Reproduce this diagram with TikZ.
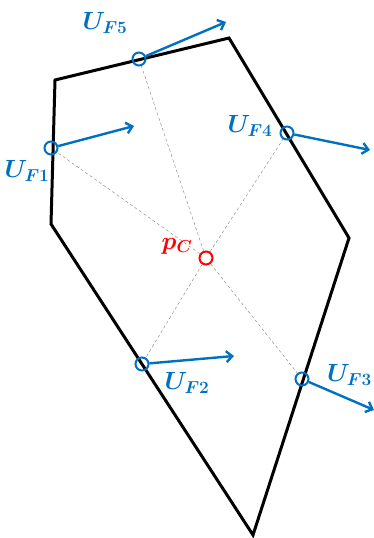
\documentclass[tikz,border=0pt]{standalone}
\usepackage{amsmath,amssymb}
\usepackage{bm}
\usepackage{xcolor}
\usepackage{tikz}
\usetikzlibrary{arrows.meta,positioning,calc}

\definecolor{forceblue}{RGB}{0,112,192}

\tikzset{
    facepoint/.style={circle, draw=forceblue, line width=2pt, minimum size=13pt, inner sep=0pt},
    centerpoint/.style={circle, draw=red, line width=2pt, minimum size=13pt, inner sep=0pt},
    force/.style={-{Straight Barb[length=6pt,width=11pt]}, forceblue, line width=2.4pt},
    spoke/.style={gray, thin, dash pattern=on 3pt off 2.5pt},
    flabel/.style={text=forceblue, inner sep=1pt, font=\fontsize{23}{26}\selectfont},
}

\begin{document}
\begin{tikzpicture}[x=1pt, y=-1pt]
    \useasboundingbox (0,0) rectangle (374,538);

    % Outline of the body
    \draw[line width=3pt, line join=miter] (55,80) -- (229,38) -- (349,238) -- (253,535) -- (51,224) -- cycle;

    % Centre point
    \node[centerpoint] (pc) at (206,258) {};
    \node[text=red, font=\fontsize{26}{28}\selectfont] (pclabel) at (177,246) {$\bm{p_C}$};

    % Points where the forces act
    \node[facepoint] (f1) at (51,148) {};
    \node[facepoint] (f2) at (142,364) {};
    \node[facepoint] (f3) at (302,379) {};
    \node[facepoint] (f4) at (287,133) {};
    \node[facepoint] (f5) at (139,59) {};

    % Spokes from the centre
    \foreach \f in {f1,f2,f3,f4,f5}
        \draw[spoke] (pc) -- (\f);

    % Force arrows
    \coordinate (t1) at (134,126);
    \coordinate (t2) at (234,356);
    \coordinate (t3) at (374,410);
    \coordinate (t4) at (370,150);
    \coordinate (t5) at (226,22);
    \foreach \i in {1,...,5}
        \draw[force] (f\i) -- (t\i);

    % Labels
    \node[flabel] (u1) at (27,171) {$\bm{U_{F1}}$};
    \node[flabel] (u2) at (187,383) {$\bm{U_{F2}}$};
    \node[flabel, anchor=east] (u3) at (373,375) {$\bm{U_{F3}}$};
    \node[flabel] (u4) at (250,126) {$\bm{U_{F4}}$};
    \node[flabel] (u5) at (105,23) {$\bm{U_{F5}}$};
\end{tikzpicture}
\end{document}
